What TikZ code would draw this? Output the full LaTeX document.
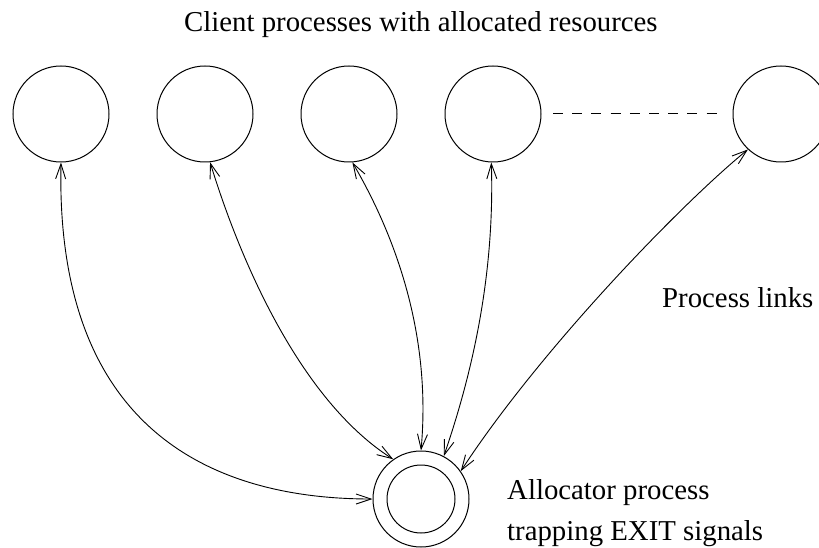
\documentclass[tikz,border=0pt]{standalone}
\usepackage{fontspec}
\setmainfont{Liberation Serif}
\usetikzlibrary{arrows.meta}
\begin{document}
\begin{tikzpicture}[x=1pt,y=-1pt,
  proc/.style={draw,circle,line width=1pt,minimum size=96pt,inner sep=0pt},
  inproc/.style={draw,circle,line width=1pt,minimum size=68pt,inner sep=0pt},
  link/.style={line width=0.9pt,{Straight Barb[length=15pt,width=10pt]}-{Straight Barb[length=15pt,width=10pt]}},
  lbl/.style={inner sep=0pt,anchor=base west,font=\fontsize{28.8}{41}\selectfont}]
\useasboundingbox (0,0) rectangle (819,548);
\node[proc] (c1) at (61,114) {};
\node[proc] (c2) at (205,114) {};
\node[proc] (c3) at (349,114) {};
\node[proc] (c4) at (493,114) {};
\node[proc] (c5) at (781,114) {};
\node[proc] (alloc) at (421,499) {};
\node[inproc] (allocin) at (421,499) {};
\coordinate (d1) at (553,114);
\coordinate (d2) at (717,114);
\draw[line width=1pt,dash pattern=on 10pt off 9.2pt] (d1) -- (d2);
\draw[link] (c1.south) .. controls (55,440) and (225,499) .. (alloc.west);
\draw[link] (c2.-84) .. controls (240,260) and (300,400) .. (alloc.125);
\draw[link] (c3.-86) .. controls (392,230) and (432,330) .. (alloc.north);
\draw[link] (c4.-92) .. controls (495,280) and (470,380) .. (alloc.62);
\draw[link] (c5.227) .. controls (680,205) and (540,350) .. (alloc.35);
\node[lbl] (title) at (184,32) {Client processes with allocated resources};
\node[lbl] (links) at (662,307) {Process links};
\node[lbl] (al1) at (507,499) {Allocator process};
\node[lbl] (al2) at (507,540) {trapping EXIT signals};
\end{tikzpicture}
\end{document}
